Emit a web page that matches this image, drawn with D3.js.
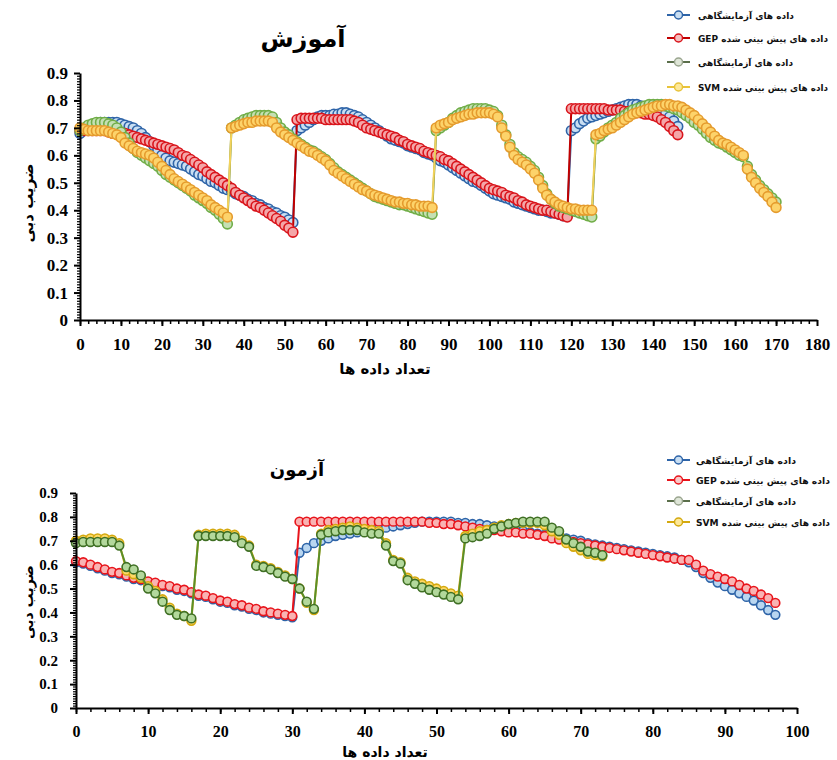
<!DOCTYPE html>
<html><head><meta charset="utf-8">
<script src="https://cdn.jsdelivr.net/npm/d3@7"></script>
<style>body{margin:0;background:#fff} svg{display:block}</style>
</head><body><svg id="c" width="837" height="760"></svg>
<script>
// ---------- DATA ----------
const legendLabels = ["داده های آزمایشگاهی", "داده های پیش بینی شده GEP", "داده های آزمایشگاهی", "داده های پیش بینی شده SVM"];
const yTicks = [0,0.1,0.2,0.3,0.4,0.5,0.6,0.7,0.8,0.9];
const trainXTicks = [0,10,20,30,40,50,60,70,80,90,100,110,120,130,140,150,160,170,180];
const testXTicks = [0,10,20,30,40,50,60,70,80,90,100];
const trainTitle = "آموزش", testTitle = "آزمون";
const xTitle = "تعداد داده ها", yTitle = "ضریب دبی";

// Training (x = index)
const trainBlue = [
0.68,0.69,0.70,0.71,0.715,0.72,0.72,0.72,0.72,0.72,
0.715,0.71,0.705,0.70,0.69,0.68,0.665,0.65,0.635,0.62,
0.60,0.59,0.58,0.575,0.57,0.565,0.56,0.55,0.54,0.53,
0.525,0.515,0.505,0.50,0.49,0.48,0.475,0.47,0.46,0.455,
0.45,0.44,0.435,0.425,0.42,0.41,0.405,0.395,0.39,0.38,
0.375,0.365,0.355,
0.69,0.70,0.71,0.72,0.73,0.74,0.745,0.745,0.745,0.75,
0.75,0.755,0.755,0.75,0.745,0.74,0.73,0.72,0.71,0.70,
0.69,0.68,0.67,0.66,0.655,0.65,0.645,0.635,0.63,0.625,
0.62,0.61,0.605,0.60,0.59,0.58,0.575,0.565,0.555,0.545,
0.535,0.525,0.515,0.505,0.50,0.49,0.48,0.47,0.46,0.455,
0.45,0.445,0.44,0.43,0.425,0.42,0.415,0.41,0.405,0.40,
0.40,0.395,0.39,0.39,0.385,0.38,0.38,
0.69,0.70,0.715,0.725,0.735,0.74,0.745,0.75,0.755,0.76,
0.765,0.77,0.775,0.78,0.785,0.785,0.785,0.78,0.775,0.77,
0.765,0.76,0.755,0.75,0.74,0.725,0.705];
const trainRed = [
0.69,0.69,0.69,0.69,0.69,0.69,0.69,0.685,0.68,0.68,
0.68,0.68,0.675,0.67,0.665,0.66,0.655,0.65,0.645,0.64,
0.635,0.63,0.625,0.62,0.61,0.60,0.595,0.585,0.575,0.565,
0.555,0.54,0.53,0.52,0.51,0.50,0.49,0.48,0.465,0.455,
0.445,0.435,0.425,0.415,0.41,0.40,0.39,0.38,0.37,0.36,
0.345,0.335,0.32,
0.73,0.735,0.735,0.735,0.735,0.735,0.735,0.73,0.73,0.73,
0.73,0.73,0.73,0.73,0.725,0.72,0.71,0.70,0.695,0.69,
0.685,0.68,0.675,0.67,0.665,0.655,0.65,0.64,0.635,0.63,
0.625,0.615,0.61,0.605,0.60,0.595,0.585,0.58,0.57,0.56,
0.55,0.54,0.53,0.52,0.51,0.50,0.49,0.48,0.475,0.47,
0.465,0.455,0.45,0.445,0.435,0.43,0.42,0.415,0.41,0.405,
0.40,0.40,0.395,0.39,0.385,0.38,0.375,
0.77,0.77,0.77,0.77,0.77,0.77,0.77,0.77,0.77,0.765,
0.765,0.765,0.765,0.76,0.76,0.76,0.755,0.755,0.75,0.75,
0.745,0.74,0.73,0.72,0.705,0.69,0.675];
const trainGreen = [
0.69,0.70,0.71,0.715,0.72,0.72,0.72,0.715,0.71,0.70,
0.685,0.665,0.645,0.625,0.61,0.60,0.59,0.58,0.57,0.56,
0.545,0.53,0.52,0.51,0.50,0.49,0.48,0.47,0.455,0.445,
0.435,0.425,0.41,0.40,0.385,0.37,0.35,
0.70,0.71,0.72,0.73,0.735,0.74,0.745,0.745,0.745,0.745,
0.74,0.72,0.70,0.685,0.675,0.66,0.65,0.64,0.63,0.62,
0.615,0.605,0.595,0.585,0.57,0.555,0.54,0.53,0.52,0.51,
0.50,0.49,0.48,0.47,0.46,0.45,0.445,0.44,0.435,0.43,
0.425,0.42,0.42,0.415,0.41,0.405,0.40,0.395,0.39,0.385,
0.69,0.70,0.71,0.72,0.735,0.745,0.755,0.76,0.765,0.77,
0.77,0.77,0.77,0.765,0.76,0.745,0.71,0.675,0.64,0.61,
0.595,0.585,0.575,0.56,0.545,0.52,0.49,0.46,0.44,0.425,
0.415,0.41,0.405,0.40,0.395,0.39,0.385,0.38,0.375,
0.66,0.67,0.685,0.70,0.71,0.72,0.735,0.745,0.755,0.765,
0.77,0.775,0.78,0.785,0.785,0.785,0.785,0.78,0.775,0.77,
0.765,0.755,0.745,0.735,0.72,0.71,0.695,0.68,0.665,0.655,
0.645,0.64,0.63,0.62,0.61,0.60,0.595,0.56,0.53,0.51,
0.49,0.475,0.46,0.445,0.43];
const trainYellow = [
0.70,0.695,0.69,0.69,0.69,0.69,0.69,0.685,0.68,0.675,
0.665,0.645,0.635,0.625,0.615,0.61,0.605,0.60,0.59,0.575,
0.56,0.545,0.53,0.515,0.505,0.495,0.485,0.475,0.465,0.455,
0.445,0.435,0.42,0.41,0.40,0.39,0.375,
0.70,0.705,0.71,0.715,0.72,0.72,0.725,0.725,0.725,0.725,
0.72,0.70,0.685,0.675,0.665,0.655,0.645,0.635,0.625,0.615,
0.61,0.60,0.59,0.58,0.565,0.545,0.535,0.525,0.515,0.505,
0.495,0.485,0.475,0.47,0.46,0.455,0.45,0.445,0.44,0.435,
0.43,0.43,0.425,0.425,0.42,0.42,0.415,0.415,0.415,0.41,
0.70,0.71,0.715,0.72,0.73,0.735,0.74,0.745,0.75,0.75,
0.755,0.755,0.755,0.755,0.75,0.74,0.70,0.67,0.63,0.60,
0.585,0.575,0.565,0.55,0.535,0.51,0.48,0.455,0.44,0.43,
0.42,0.415,0.41,0.405,0.405,0.40,0.40,0.40,0.40,
0.675,0.68,0.69,0.695,0.70,0.71,0.72,0.73,0.74,0.75,
0.755,0.76,0.765,0.77,0.775,0.78,0.78,0.785,0.785,0.78,
0.78,0.775,0.765,0.755,0.745,0.73,0.715,0.70,0.685,0.67,
0.655,0.645,0.64,0.63,0.62,0.61,0.60,0.55,0.52,0.50,
0.48,0.465,0.45,0.43,0.41];

// Testing (x = index)
const testBlue = [
0.61,0.605,0.595,0.585,0.575,0.565,0.56,0.55,0.54,0.535,
0.525,0.52,0.51,0.505,0.495,0.49,0.48,0.47,0.465,0.455,
0.445,0.44,0.43,0.425,0.415,0.41,0.40,0.395,0.39,0.385,
0.38,
0.65,0.67,0.69,0.70,0.71,0.72,0.725,0.73,0.735,0.74,
0.745,0.75,0.755,0.76,0.765,0.77,0.775,0.78,0.78,0.78,
0.78,0.78,0.775,0.775,0.77,0.77,0.765,0.76,0.755,0.75,
0.745,0.74,0.735,0.73,0.725,0.72,0.715,0.71,0.705,0.70,
0.69,0.685,0.68,0.675,0.67,0.665,0.66,0.655,0.65,0.645,
0.64,0.635,0.63,0.62,0.61,0.59,0.565,0.545,0.525,0.51,
0.495,0.48,0.465,0.45,0.43,0.41,0.39];
const testRed = [
0.615,0.61,0.60,0.59,0.58,0.57,0.565,0.555,0.545,0.54,
0.53,0.525,0.515,0.51,0.50,0.495,0.485,0.475,0.47,0.46,
0.45,0.445,0.435,0.43,0.42,0.415,0.405,0.40,0.395,0.39,
0.385,
0.78,0.78,0.78,0.78,0.78,0.78,0.78,0.78,0.78,0.78,
0.78,0.78,0.78,0.78,0.78,0.78,0.78,0.78,0.775,0.775,
0.77,0.77,0.765,0.76,0.755,0.75,0.745,0.745,0.74,0.735,
0.735,0.73,0.73,0.725,0.72,0.71,0.705,0.70,0.695,0.69,
0.685,0.68,0.675,0.67,0.665,0.66,0.655,0.65,0.645,0.64,
0.635,0.63,0.625,0.62,0.62,0.60,0.575,0.56,0.55,0.54,
0.53,0.515,0.50,0.49,0.475,0.46,0.44];
const testGreen = [
0.69,0.695,0.695,0.695,0.695,0.695,0.68,0.59,0.58,0.555,
0.50,0.48,0.445,0.41,0.39,0.385,0.375,
0.72,0.72,0.72,0.72,0.72,0.715,0.69,0.675,0.595,0.59,
0.58,0.565,0.55,0.54,0.50,0.445,0.415,
0.725,0.735,0.74,0.745,0.745,0.745,0.735,0.73,0.73,0.68,
0.615,0.605,0.535,0.52,0.505,0.495,0.485,0.475,0.465,0.455,
0.71,0.715,0.72,0.73,0.75,0.76,0.77,0.775,0.78,0.78,
0.78,0.78,0.755,0.74,0.705,0.69,0.675,0.655,0.65,0.64];
const testYellow = [
0.70,0.705,0.71,0.71,0.71,0.705,0.69,0.575,0.56,0.545,
0.51,0.49,0.455,0.42,0.395,0.385,0.365,
0.725,0.73,0.73,0.73,0.73,0.725,0.70,0.68,0.60,0.595,
0.585,0.57,0.555,0.54,0.50,0.44,0.41,
0.73,0.745,0.75,0.755,0.76,0.755,0.75,0.745,0.74,0.69,
0.62,0.61,0.545,0.53,0.52,0.51,0.50,0.49,0.48,0.47,
0.72,0.73,0.74,0.745,0.755,0.765,0.77,0.775,0.775,0.775,
0.775,0.765,0.74,0.725,0.69,0.675,0.66,0.645,0.64,0.635];

// ---------- STYLES ----------
const stTop = {
  blue:  {line:"#2e64a8", stroke:"#2e64a8", fill:"#c9def2"},
  red:   {line:"#c00000", stroke:"#d9141b", fill:"#f4a6a8"},
  green: {line:"#548235", stroke:"#70ad47", fill:"#c5e0b4"},
  yellow:{line:"#f2d25c", stroke:"#e59b2d", fill:"#fdd36a"}
};
const stBot = {
  blue:  {line:"#2e64a8", stroke:"#2e64a8", fill:"#b9d6f0"},
  red:   {line:"#e8141b", stroke:"#e8141b", fill:"#f9b3b3"},
  green: {line:"#5a8f2a", stroke:"#3f6f24", fill:"#b3d89c"},
  yellow:{line:"#d4a90f", stroke:"#d4a90f", fill:"#ffd966"}
};
const legTop = [
  {line:"#2e64a8", stroke:"#2e64a8", fill:"#c9def2"},
  {line:"#c00000", stroke:"#d9141b", fill:"#f4c0c0"},
  {line:"#5a6e4a", stroke:"#9aa58f", fill:"#dfe6d8"},
  {line:"#e8c33a", stroke:"#e8c33a", fill:"#fde89a"}
];
const legBot = [
  {line:"#2e64a8", stroke:"#2e64a8", fill:"#c9def2"},
  {line:"#e8141b", stroke:"#e8141b", fill:"#f9c8c8"},
  {line:"#5a6e4a", stroke:"#9aa58f", fill:"#dfe6d8"},
  {line:"#d4a90f", stroke:"#d4a90f", fill:"#fde89a"}
];

const svg = d3.select("#c");
svg.append("rect").attr("width",837).attr("height",760).attr("fill","#fff");

function drawChart(cfg){
  const g = svg.append("g");
  const x = d3.scaleLinear().domain([0, cfg.xmax]).range([cfg.x0, cfg.x1]);
  const y = d3.scaleLinear().domain([0, 0.9]).range([cfg.y0, cfg.y1]);
  const fmtY = d => d === 0 ? "0" : d3.format(".1f")(d);

  // series
  cfg.series.forEach(s => {
    const line = d3.line().x((d,i)=>x(i)).y(d=>y(d));
    g.append("path").attr("d", line(s.data)).attr("fill","none")
      .attr("stroke", s.st.line).attr("stroke-width", 2);
    g.selectAll(null).data(s.data).enter().append("circle")
      .attr("cx",(d,i)=>x(i)).attr("cy",d=>y(d)).attr("r",cfg.r)
      .attr("fill", s.st.fill).attr("stroke", s.st.stroke).attr("stroke-width",1.6);
  });

  // minor ticks
  g.append("g").attr("transform",`translate(${cfg.x0},0)`)
    .call(d3.axisLeft(y).tickValues(d3.range(0,90).map(i=>i/100)).tickSize(3).tickFormat("").tickSizeOuter(0))
    .call(a=>{a.select(".domain").remove(); a.selectAll("line").attr("stroke","#000").attr("stroke-width",1.2);});
  g.append("g").attr("transform",`translate(0,${cfg.y0})`)
    .call(d3.axisBottom(x).tickValues(d3.range(0,cfg.xmax/2).map(i=>i*2)).tickSize(4).tickFormat("").tickSizeOuter(0))
    .call(a=>{a.select(".domain").remove(); a.selectAll("line").attr("stroke","#000").attr("stroke-width",1.5);});

  // major axes
  const ya = g.append("g").attr("transform",`translate(${cfg.x0},0)`)
    .call(d3.axisLeft(y).tickValues(yTicks).tickFormat(fmtY).tickSize(6).tickPadding(cfg.yPad).tickSizeOuter(0));
  ya.select(".domain").attr("stroke","#000").attr("stroke-width",2);
  ya.selectAll("line").attr("stroke","#000").attr("stroke-width",2);
  ya.selectAll("text").attr("font-family","'Liberation Serif', serif").attr("font-weight","bold")
    .attr("font-size",cfg.yfs).attr("fill","#000");

  const xa = g.append("g").attr("transform",`translate(0,${cfg.y0})`)
    .call(d3.axisBottom(x).tickValues(cfg.xTicks).tickSize(6).tickPadding(cfg.xPad).tickSizeOuter(0));
  xa.select(".domain").attr("stroke","#000").attr("stroke-width",2);
  xa.selectAll("line").attr("stroke","#000").attr("stroke-width",2);
  xa.selectAll("text").attr("font-family","'Liberation Serif', serif").attr("font-weight","bold")
    .attr("font-size",cfg.xfs).attr("fill","#000");

  // titles
  g.append("text").attr("x",cfg.title[0]).attr("y",cfg.title[1]).attr("text-anchor","middle")
    .attr("font-family","'DejaVu Sans', sans-serif").attr("font-weight","bold").attr("font-size",cfg.tfs)
    .attr("direction","rtl").text(cfg.titleText);
  g.append("text").attr("x",cfg.xt[0]).attr("y",cfg.xt[1]).attr("text-anchor","middle")
    .attr("font-family","'DejaVu Sans', sans-serif").attr("font-weight","bold").attr("font-size",cfg.afs)
    .attr("direction","rtl").text(xTitle);
  g.append("text").attr("transform",`translate(${cfg.yt[0]},${cfg.yt[1]}) rotate(-90)`).attr("text-anchor","middle")
    .attr("font-family","'DejaVu Sans', sans-serif").attr("font-weight","bold").attr("font-size",cfg.afs)
    .attr("direction","rtl").text(yTitle);

  // legend
  cfg.legRows.forEach((ry, i) => {
    const st = cfg.leg[i];
    g.append("line").attr("x1",667).attr("x2",690).attr("y1",ry).attr("y2",ry)
      .attr("stroke",st.line).attr("stroke-width",2);
    g.append("circle").attr("cx",678.5).attr("cy",ry).attr("r",4)
      .attr("fill",st.fill).attr("stroke",st.stroke).attr("stroke-width",1.5);
    g.append("text").attr("x",cfg.legX).attr("y",ry+4).attr("direction","rtl").attr("text-anchor","end")
      .attr("font-family","'DejaVu Sans', sans-serif").attr("font-weight","bold").attr("font-size",9)
      .attr("textLength", cfg.legW[i]).attr("lengthAdjust","spacingAndGlyphs")
      .attr("fill","#111").text(legendLabels[i]);
  });
}

drawChart({
  xmax:180, x0:80, x1:817, y0:320, y1:73, r:4.9, yPad:6, xPad:12, yfs:17, xfs:17,
  xTicks: trainXTicks, title:[303,47], titleText: trainTitle, tfs:24,
  xt:[385,374], yt:[33,203], afs:15,
  legRows:[15,38,62,87], leg: legTop, legX:698, legW:[96,130,95,130],
  series:[
    {data:trainBlue, st:stTop.blue},
    {data:trainRed, st:stTop.red},
    {data:trainGreen, st:stTop.green},
    {data:trainYellow, st:stTop.yellow}
  ]
});
drawChart({
  xmax:100, x0:76, x1:797, y0:708, y1:493, r:4.4, yPad:12, xPad:12, yfs:15, xfs:16,
  xTicks: testXTicks, title:[297,476], titleText: testTitle, tfs:18,
  xt:[385,757], yt:[33,602], afs:14,
  legRows:[460,480,501,522], leg: legBot, legX:696, legW:[100,134,100,134],
  series:[
    {data:testBlue, st:stBot.blue},
    {data:testRed, st:stBot.red},
    {data:testYellow, st:stBot.yellow},
    {data:testGreen, st:stBot.green}
  ]
});
</script></body></html>
